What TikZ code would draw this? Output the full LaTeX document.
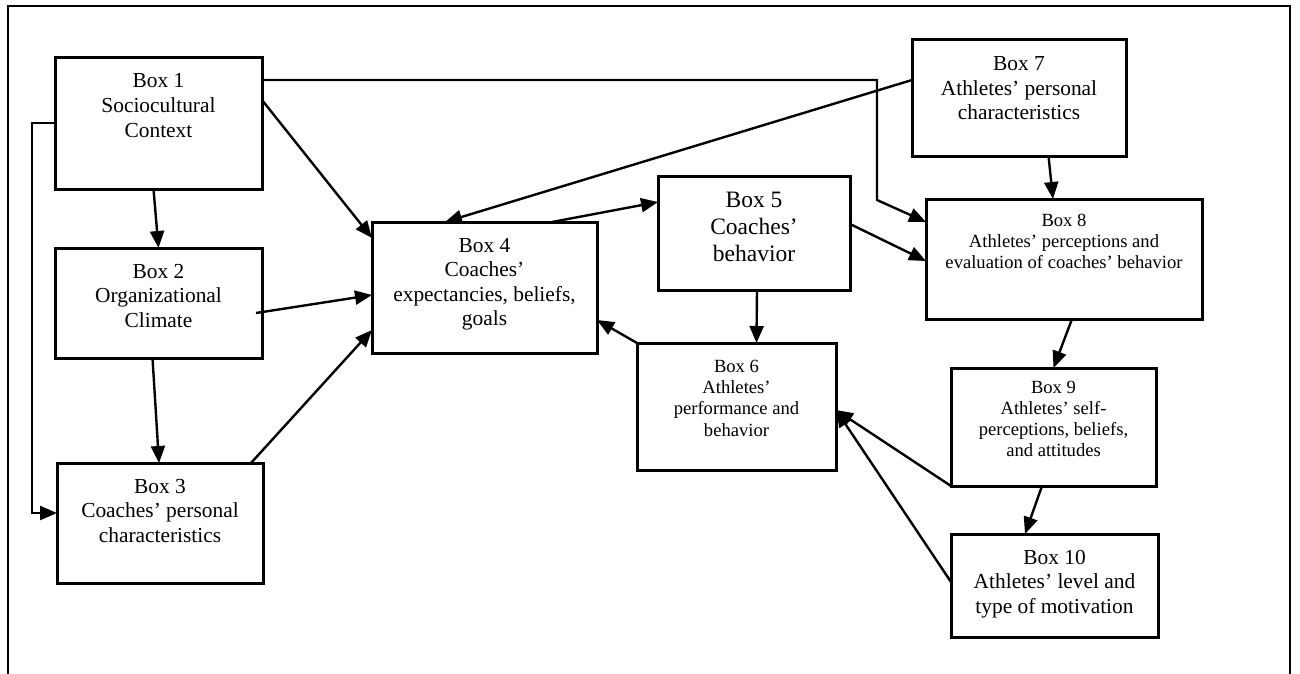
\documentclass[tikz,border=0pt]{standalone}
\usepackage{fontspec}
\setmainfont{Liberation Serif}
\usetikzlibrary{arrows.meta,calc}
\begin{document}
\begin{tikzpicture}[x=1pt,y=-1pt,
  boxnode/.style={draw,line width=3pt,rectangle,anchor=north west,inner sep=0pt,outer sep=0pt},
  bigtxt/.style={align=center,anchor=base,inner sep=0pt,font=\fontsize{21.4}{24.5}\selectfont},
  hugetxt/.style={align=center,anchor=base,inner sep=0pt,font=\fontsize{23.5}{27}\selectfont},
  smalltxt/.style={align=center,anchor=base,inner sep=0pt,font=\fontsize{18.6}{21.3}\selectfont},
  arr/.style={line width=2.4pt,-{Triangle[length=17pt,width=14pt]}},
  frameline/.style={line width=2.4pt}]
\useasboundingbox (0,0) rectangle (1300,674);
\draw[frameline] (8,674) -- (8,6) -- (1290,6) -- (1290,674);

% boxes
\node[boxnode,minimum width=207pt,minimum height=131pt] (b1) at (55,58) {};
\node[boxnode,minimum width=207pt,minimum height=110pt] (b2) at (55,248) {};
\node[boxnode,minimum width=206pt,minimum height=120pt] (b3) at (57,463) {};
\node[boxnode,minimum width=225pt,minimum height=131pt] (b4) at (372,222) {};
\node[boxnode,minimum width=192pt,minimum height=114pt] (b5) at (658,176) {};
\node[boxnode,minimum width=199pt,minimum height=127pt] (b6) at (637,343) {};
\node[boxnode,minimum width=214pt,minimum height=116pt] (b7) at (912,40) {};
\node[boxnode,minimum width=276pt,minimum height=120pt] (b8) at (926,199) {};
\node[boxnode,minimum width=205pt,minimum height=118pt] (b9) at (951,368) {};
\node[boxnode,minimum width=207pt,minimum height=103pt] (b10) at (951,534) {};

% texts (anchor base = baseline of the last line)
\node[bigtxt] (t1) at ([yshift=-79pt]b1.north) {Box 1\\Sociocultural\\Context};
\node[bigtxt] (t2) at ([yshift=-79pt]b2.north) {Box 2\\Organizational\\Climate};
\node[bigtxt] (t3) at ([yshift=-79pt]b3.north) {Box 3\\Coaches’ personal\\characteristics};
\node[bigtxt] (t4) at ([yshift=-103.5pt]b4.north) {Box 4\\Coaches’\\expectancies, beliefs,\\goals};
\node[hugetxt] (t5) at ([yshift=-85pt]b5.north) {Box 5\\Coaches’\\behavior};
\node[smalltxt] (t6) at ([yshift=-93pt]b6.north) {Box 6\\Athletes’\\performance and\\behavior};
\node[bigtxt] (t7) at ([yshift=-80pt]b7.north) {Box 7\\Athletes’ personal\\characteristics};
\node[smalltxt] (t8) at ([yshift=-69.6pt]b8.north) {Box 8\\Athletes’ perceptions and\\evaluation of coaches’ behavior};
\node[smalltxt] (t9) at ([yshift=-88.9pt]b9.north) {Box 9\\Athletes’ self-\\perceptions, beliefs,\\and attitudes};
\node[bigtxt] (t10) at ([yshift=-79pt]b10.north) {Box 10\\Athletes’ level and\\type of motivation};

% helper coordinates
\coordinate (k1) at (32,123);
\coordinate (k2) at (877,80);
\coordinate (k3) at (877,200);

% connectors
\draw[arr] ([xshift=-5pt]b1.south) -- (b2.north);
\draw[arr] ([xshift=-6pt]b2.south) -- ([xshift=-1pt]b3.north);
\draw[arr] ([yshift=-65pt]b1.north west) -- (k1) |- ([yshift=-50pt]b3.north west);
\draw[arr] ([yshift=-22pt]b1.north east) -- (k2) -- (k3) -- ([yshift=-23pt]b8.north west);
\draw[arr] ([yshift=-42pt]b1.north east) -- ([yshift=-16pt]b4.north west);
\draw[arr] ([xshift=-6pt,yshift=-65pt]b2.north east) -- ([yshift=-73pt]b4.north west);
\draw[arr] ([xshift=-12pt]b3.north east) -- ([yshift=-108pt]b4.north west);
\draw[arr] ([yshift=-40pt]b7.north west) -- ([xshift=73pt]b4.north west);
\draw[arr] ([xshift=180pt]b4.north west) -- ([yshift=-26pt]b5.north west);
\draw[arr] ([xshift=3pt]b5.south) -- ([xshift=20pt]b6.north);
\draw[arr] (b6.north west) -- ([yshift=-98pt]b4.north east);
\draw[arr] ([yshift=-48pt]b5.north east) -- ([yshift=-62pt]b8.north west);
\draw[arr] ([xshift=29.5pt]b7.south) -- ([xshift=-11pt]b8.north);
\draw[arr] ([xshift=8pt]b8.south) -- (b9.north);
\draw[arr] ([xshift=-11.5pt]b9.south) -- ([xshift=-29.5pt]b10.north);
\draw[arr] (b9.south west) -- ([yshift=-67pt]b6.north east);
\draw[arr] ([yshift=-48pt]b10.north west) -- ([yshift=-67pt]b6.north east);
\end{tikzpicture}
\end{document}
